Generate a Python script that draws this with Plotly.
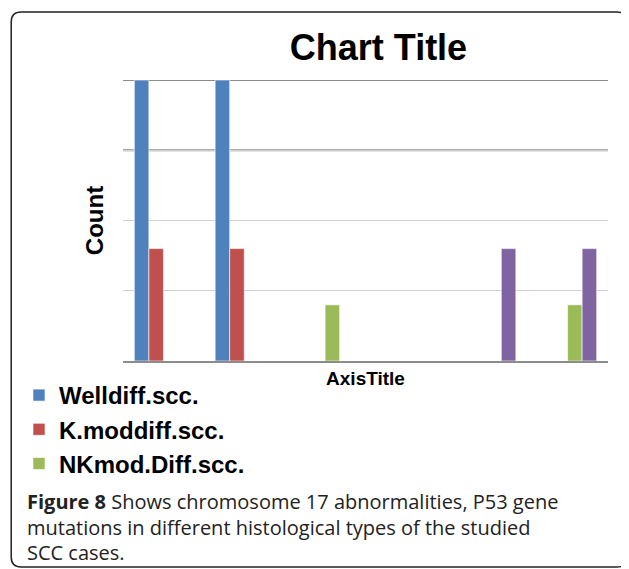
import plotly.graph_objects as go

categories = ["C1", "C2", "C3", "C4", "C5", "C6"]
series_names = ["Welldiff.scc.", "K.moddiff.scc.", "NKmod.Diff.scc.", "Series4"]
well_diff = [5, 5, None, None, None, None]
k_mod_diff = [2, 2, None, None, None, None]
nk_mod_diff = [None, None, 1, None, None, 1]
series4 = [None, None, None, None, 2, 2]
colors = ["#4F81BD", "#C0504D", "#9BBB59", "#8064A2"]
show_in_legend = [True, True, True, False]
y_ticks = [0, 1.25, 2.5, 3.75, 5]

# page body has an 8px margin; figure coordinates below are page coords minus 8
OFF = 8
W, H = 629 - OFF, 569 - OFF
L, R, T, B = 122 - OFF, 21, 80 - OFF, 208
PW, PH = W - L - R, H - T - B


def px(x):  # page pixel -> paper
    return (x - OFF - L) / PW


def py(y):  # page pixel -> paper
    return (H - B - (y - OFF)) / PH


fig = go.Figure()
for name, vals, col, sl in zip(series_names, [well_diff, k_mod_diff, nk_mod_diff, series4], colors, show_in_legend):
    fig.add_trace(go.Bar(x=categories, y=vals, name=name,
                         marker=dict(color=col, line=dict(color="white", width=0.6)),
                         showlegend=sl))

shapes = []
for yv in y_ticks[3:]:
    shapes.append(dict(type="line", xref="paper", x0=0, x1=1, yref="y", y0=yv, y1=yv,
                       line=dict(color="#8c8c8c", width=2), layer="below"))

# rounded frame (page coords)
x0, x1, y0, y1, r = 10, 627, 12, 567, 10
path = (f"M {px(x0+r)},{py(y0)} L {px(x1-r)},{py(y0)} Q {px(x1)},{py(y0)} {px(x1)},{py(y0+r)} "
        f"L {px(x1)},{py(y1-r)} Q {px(x1)},{py(y1)} {px(x1-r)},{py(y1)} "
        f"L {px(x0+r)},{py(y1)} Q {px(x0)},{py(y1)} {px(x0)},{py(y1-r)} "
        f"L {px(x0)},{py(y0+r)} Q {px(x0)},{py(y0)} {px(x0+r)},{py(y0)} Z")
shapes.append(dict(type="path", xref="paper", yref="paper", path=path, line=dict(color="#222", width=1.5)))

cap_font = "Open Sans, Noto Sans, sans-serif"
caption_lines = ["<b>Figure 8</b> Shows chromosome 17 abnormalities, P53 gene",
                 "mutations in different histological types of the studied",
                 "SCC cases."]
caption_y = [501, 527, 552]
annotations = []
for line, yy in zip(caption_lines, caption_y):
    annotations.append(dict(text=line, xref="paper", yref="paper", x=px(24), y=py(yy),
                            xanchor="left", yanchor="middle", showarrow=False,
                            font=dict(family=cap_font, size=20, color="#222")))

fig.update_layout(
    width=W, height=H,
    margin=dict(l=L, r=R, t=T, b=B),
    paper_bgcolor="white", plot_bgcolor="white",
    barmode="group", bargap=0.28, bargroupgap=0,
    font=dict(family="Liberation Sans, Arial, sans-serif", color="black"),
    title=dict(text="<b>Chart Title</b>", font=dict(size=36), xref="paper", x=px(378), xanchor="center",
               yref="container", y=1 - (47 - OFF) / H, yanchor="middle"),
    xaxis=dict(showticklabels=False, ticks="", showgrid=False, showline=True, linecolor="#8c8c8c", linewidth=2,
               title=dict(text="<b>AxisTitle</b>", font=dict(size=19), standoff=10)),
    yaxis=dict(range=[0, 5], tickvals=y_ticks, showticklabels=False, ticks="", showgrid=True,
               gridcolor="#d0d0d0", gridwidth=1, zeroline=False, showline=False,
               title=dict(text="<b>Count</b>", font=dict(size=24), standoff=11)),
    legend=dict(x=px(19), xanchor="left", y=py(373), yanchor="top",
                font=dict(size=24, weight="bold"),
                itemwidth=30, bgcolor="rgba(0,0,0,0)", tracegroupgap=0),
    shapes=shapes,
    annotations=annotations,
)

fig.write_html("out.html")
